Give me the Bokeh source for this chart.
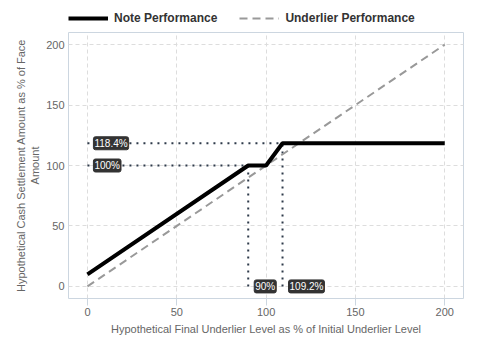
from bokeh.plotting import figure
from bokeh.layouts import column
from bokeh.models import Legend, LegendItem, Range1d, FixedTicker, ColumnDataSource
from bokeh.core.properties import value
from bokeh.embed import file_html
from bokeh.resources import INLINE

# data
note_x = [0, 90, 100, 109.2, 200]
note_y = [10, 100, 100, 118.4, 118.4]
under_x = [0, 200]
under_y = [0, 200]
levels_y = [118.4, 100]
levels_y_end = [109.2, 90]
levels_y_labels = ["118.4%", "100%"]
levels_x = [90, 109.2]
levels_x_end = [100, 118.4]
levels_x_labels = ["90%", "109.2%"]
ticks = [0, 50, 100, 150, 200]
series_names = ["Note Performance", "Underlier Performance"]

FONT = "Liberation Sans"
W = 472
LEG_H = 32
H = 320
BL, BR, BT, BB = 68, 9, 0, 54
p = figure(width=W, height=H, output_backend="svg", toolbar_location=None,
           x_range=Range1d(-10.6, 210.5), y_range=Range1d(-10, 210),
           min_border_left=BL, min_border_right=BR, min_border_bottom=BB, min_border_top=BT)
p.outline_line_color = "#ccd6e0"
p.background_fill_color = "white"
p.border_fill_color = "white"

for ax in (p.xaxis[0], p.yaxis[0]):
    ax.ticker = FixedTicker(ticks=ticks)
    ax.axis_line_color = None
    ax.major_tick_line_color = "#ccd6e0"
    ax.minor_tick_line_color = None
    ax.major_label_text_font = FONT
    ax.major_label_text_font_size = "11px"
    ax.major_label_text_color = "#666666"
    ax.axis_label_text_font = FONT
    ax.axis_label_text_font_size = "11px"
    ax.axis_label_text_font_style = "normal"
    ax.axis_label_text_color = "#666666"
p.xaxis.major_tick_in = 0
p.xaxis.major_tick_out = 7
p.yaxis.major_tick_in = 0
p.yaxis.major_tick_out = 0
p.xaxis.axis_label = "Hypothetical Final Underlier Level as % of Initial Underlier Level"
p.yaxis.axis_label = "Hypothetical Cash Settlement Amount as % of Face\nAmount"
p.xaxis.axis_label_standoff = 4
p.xaxis.major_label_standoff = 2
p.yaxis.axis_label_standoff = 2
p.yaxis.major_label_standoff = 4

for g in (p.xgrid[0], p.ygrid[0]):
    g.grid_line_color = "#dddddd"
    g.grid_line_dash = "4 3"
    g.grid_line_width = 1

# dotted guides
dot_color = "#2e3a4a"
for yv, xe in zip(levels_y, levels_y_end):
    p.line([0, xe], [yv, yv], line_color=dot_color, line_width=2, line_dash="2 5")
for xv, ye in zip(levels_x, levels_x_end):
    p.line([xv, xv], [0, ye], line_color=dot_color, line_width=2, line_dash="2 5")

under_style = dict(line_color="#999999", line_width=2, line_dash="8 5")
note_style = dict(line_color="#000000", line_width=4)
p.line(under_x, under_y, **under_style)
p.line(note_x, note_y, **note_style)

src_y = ColumnDataSource(dict(x=[0] * len(levels_y), y=levels_y, t=levels_y_labels))
src_x = ColumnDataSource(dict(x=levels_x, y=[0] * len(levels_x), t=levels_x_labels))
for src in (src_y, src_x):
    p.text(x="x", y="y", text="t", source=src, x_offset=6,
           text_align="left", text_baseline="middle",
           text_font=value(FONT), text_font_size="10px", text_color="white",
           background_fill_color="#333333", border_line_color="#333333",
           border_radius=2, padding=1)

# legend strip on top
lf = figure(width=W, height=LEG_H, output_backend="svg", toolbar_location=None,
            x_axis_type=None, y_axis_type=None,
            x_range=Range1d(0, 1), y_range=Range1d(0, 1),
            min_border_left=0, min_border_right=0, min_border_top=0, min_border_bottom=0)
lf.grid.visible = False
lf.outline_line_color = None
nan = float("nan")
r_note = lf.line([nan], [nan], **note_style)
r_under = lf.line([nan], [nan], **under_style)
legend = Legend(items=[LegendItem(label=series_names[0], renderers=[r_note]),
                       LegendItem(label=series_names[1], renderers=[r_under])],
                orientation="horizontal", location=(0, 7),
                label_text_font=FONT, label_text_font_size="12px",
                label_text_font_style="bold", label_text_color="#333333",
                glyph_width=40, glyph_height=10, spacing=22, padding=0, margin=0,
                label_standoff=6,
                border_line_color=None, background_fill_alpha=0)
lf.add_layout(legend, "center")

layout = column(lf, p, spacing=0)
open("out.html", "w").write(file_html(layout, INLINE))
